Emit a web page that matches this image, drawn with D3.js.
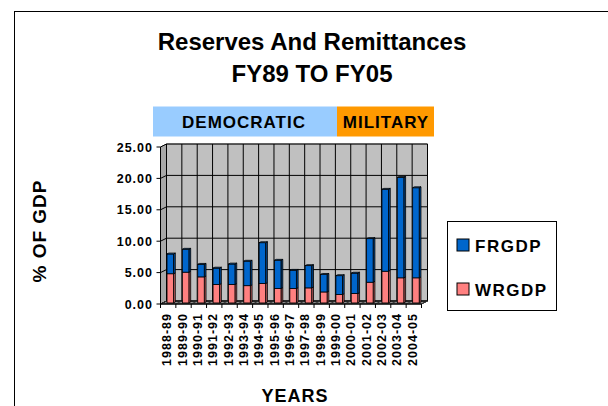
<!DOCTYPE html>
<html>
<head>
<meta charset="utf-8">
<script src="https://cdn.jsdelivr.net/npm/d3@7"></script>
<style>
  body { margin: 0; background: #fff; }
  svg text { font-family: "Liberation Sans", Arial, sans-serif; font-weight: bold; fill: #000; }
</style>
</head>
<body>
<svg width="608" height="406"></svg>
<script>
let years = ['1988-89','1989-90','1990-91','1991-92','1992-93','1993-94','1994-95','1995-96','1996-97',
             '1997-98','1998-99','1999-00','2000-01','2001-02','2002-03','2003-04','2004-05']
// remittances (bottom, pink) and reserves (top, blue), % of GDP
let wrgdp = [4.65, 4.9, 4.15, 2.95, 2.95, 2.75, 3.1, 2.3, 2.3, 2.4, 1.75, 1.35, 1.5, 3.3, 5.05, 4.0, 4.0]
let frgdp = [3.15, 3.65, 2.0, 2.6, 3.25, 3.9, 6.5, 4.5, 2.9, 3.55, 2.8, 3.0, 3.25, 6.95, 13.05, 16.0, 14.35]
let yTicks = [0, 5, 10, 15, 20, 25]

let svg = d3.select('svg')

// outer chart frame
svg.append('rect').attr('x', 14.5).attr('y', 11.5).attr('width', 620).attr('height', 420)
   .attr('fill', 'none').attr('stroke', '#000')

// title
svg.append('text').attr('x', 312).attr('y', 50).attr('text-anchor', 'middle')
   .style('font-size', '24px').text('Reserves And Remittances')
svg.append('text').attr('x', 312).attr('y', 82).attr('text-anchor', 'middle')
   .style('font-size', '24px').text('FY89 TO FY05')

// period banner
svg.append('rect').attr('x', 153).attr('y', 106.5).attr('width', 184).attr('height', 30).attr('fill', '#99CCFF')
svg.append('rect').attr('x', 337).attr('y', 106.5).attr('width', 97).attr('height', 30).attr('fill', '#FF9900')
svg.append('text').attr('x', 244).attr('y', 127.5).attr('text-anchor', 'middle')
   .style('font-size', '17px').style('letter-spacing', '1px').text('DEMOCRATIC')
svg.append('text').attr('x', 386).attr('y', 127.5).attr('text-anchor', 'middle')
   .style('font-size', '17px').style('letter-spacing', '1px').text('MILITARY')

// 3d plot geometry: front plane + depth offset
let dx = 6, dy = -3
let x = d3.scaleBand().domain(years).range([160.5, 421.5])
let y = d3.scaleLinear().domain([0, 25]).range([304, 147])
let x0 = 160.5, x1 = 421.5

let pts = (arr) => arr.map(p => p.join(',')).join(' ')

// back wall
svg.append('polygon')
   .attr('points', pts([[x0+dx, y(25)+dy], [x1+dx, y(25)+dy], [x1+dx, y(0)+dy], [x0+dx, y(0)+dy]]))
   .attr('fill', '#C0C0C0').attr('stroke', '#808080')
// left side wall
svg.append('polygon')
   .attr('points', pts([[x0, y(25)], [x0+dx, y(25)+dy], [x0+dx, y(0)+dy], [x0, y(0)]]))
   .attr('fill', '#A8A8A8').attr('stroke', '#808080')
// floor
svg.append('polygon')
   .attr('points', pts([[x0, y(0)], [x1, y(0)], [x1+dx, y(0)+dy], [x0+dx, y(0)+dy]]))
   .attr('fill', '#909090').attr('stroke', '#000')

// horizontal gridlines (back wall + side wall)
yTicks.forEach(v => {
  svg.append('polyline')
     .attr('points', pts([[x0, y(v)], [x0+dx, y(v)+dy], [x1+dx, y(v)+dy]]))
     .attr('fill', 'none').attr('stroke', '#000').attr('stroke-width', 1)
})
// vertical gridlines on back wall, floor lines and x ticks
let bounds = years.map(d => x(d)).concat([x1])
bounds.forEach(b => {
  svg.append('line').attr('x1', b+dx).attr('x2', b+dx).attr('y1', y(25)+dy).attr('y2', y(0)+dy)
     .attr('stroke', '#000')
  svg.append('line').attr('x1', b).attr('x2', b+dx).attr('y1', y(0)).attr('y2', y(0)+dy)
     .attr('stroke', '#333')
  svg.append('line').attr('x1', b).attr('x2', b).attr('y1', y(0)).attr('y2', y(0)+4)
     .attr('stroke', '#000')
})

// axes lines
svg.append('line').attr('x1', x0).attr('x2', x0).attr('y1', y(0)).attr('y2', y(25)).attr('stroke', '#000')
svg.append('line').attr('x1', x0).attr('x2', x1).attr('y1', y(0)).attr('y2', y(0)).attr('stroke', '#000')

// y tick labels
yTicks.forEach(v => {
  svg.append('line').attr('x1', x0-4).attr('x2', x0).attr('y1', y(v)).attr('y2', y(v)).attr('stroke', '#000')
  svg.append('text').attr('x', 153).attr('y', y(v)).attr('dy', '0.36em').attr('text-anchor', 'end')
     .style('font-size', '12.5px').style('letter-spacing', '1px').text(v.toFixed(2))
})

// x tick labels
years.forEach(d => {
  let cx = x(d) + x.bandwidth()/2 - 1.5
  svg.append('text').attr('transform', 'translate(' + (cx + 4.5) + ',313) rotate(-90)')
     .attr('text-anchor', 'end').style('font-size', '12.5px').style('letter-spacing', '1px').text(d)
})

// bars
let bw = 6.5
let f0 = 0.35, f1 = 0.65
let drawSeg = (cx, v0, v1, front, side, top, cap) => {
  let xl = cx - bw/2 + dx*f0, xr = cx + bw/2 + dx*f0
  let ya = y(v0) + dy*f0, yb = y(v1) + dy*f0
  let ddx = dx*(f1-f0), ddy = dy*(f1-f0)
  svg.append('polygon').attr('points', pts([[xr, yb], [xr+ddx, yb+ddy], [xr+ddx, ya+ddy], [xr, ya]]))
     .attr('fill', side).attr('stroke', '#000').attr('stroke-width', 0.8)
  svg.append('rect').attr('x', xl).attr('y', yb).attr('width', bw).attr('height', ya - yb)
     .attr('fill', front).attr('stroke', '#000').attr('stroke-width', 0.8)
  if (cap) {
    svg.append('polygon').attr('points', pts([[xl, yb], [xl+ddx, yb+ddy], [xr+ddx, yb+ddy], [xr, yb]]))
       .attr('fill', top).attr('stroke', '#000').attr('stroke-width', 0.8)
  }
}
years.forEach((d, i) => {
  let cx = x(d) + x.bandwidth()/2
  drawSeg(cx, 0, wrgdp[i], '#FF8080', '#B35A5A', '#FF8080', false)
  drawSeg(cx, wrgdp[i], wrgdp[i] + frgdp[i], '#0066CC', '#00478F', '#3385D6', true)
})

// axis titles
svg.append('text').attr('transform', 'translate(46,231) rotate(-90)').attr('text-anchor', 'middle')
   .style('font-size', '19px').style('letter-spacing', '1px').text('% OF GDP')
svg.append('text').attr('x', 295).attr('y', 402).attr('text-anchor', 'middle')
   .style('font-size', '18px').style('letter-spacing', '1px').text('YEARS')

// legend
let legend = svg.append('g')
legend.append('rect').attr('x', 447.5).attr('y', 221.5).attr('width', 109).attr('height', 89)
      .attr('fill', '#fff').attr('stroke', '#000')
let legItems = [['FRGDP', '#0066CC', 245], ['WRGDP', '#FF8080', 289]]
legItems.forEach(it => {
  legend.append('rect').attr('x', 457).attr('y', it[2] - 6).attr('width', 12).attr('height', 12)
        .attr('fill', it[1]).attr('stroke', '#000')
  legend.append('text').attr('x', 475).attr('y', it[2] + 6.5)
        .style('font-size', '17px').style('letter-spacing', '1.5px').text(it[0])
})
</script>
</body>
</html>
